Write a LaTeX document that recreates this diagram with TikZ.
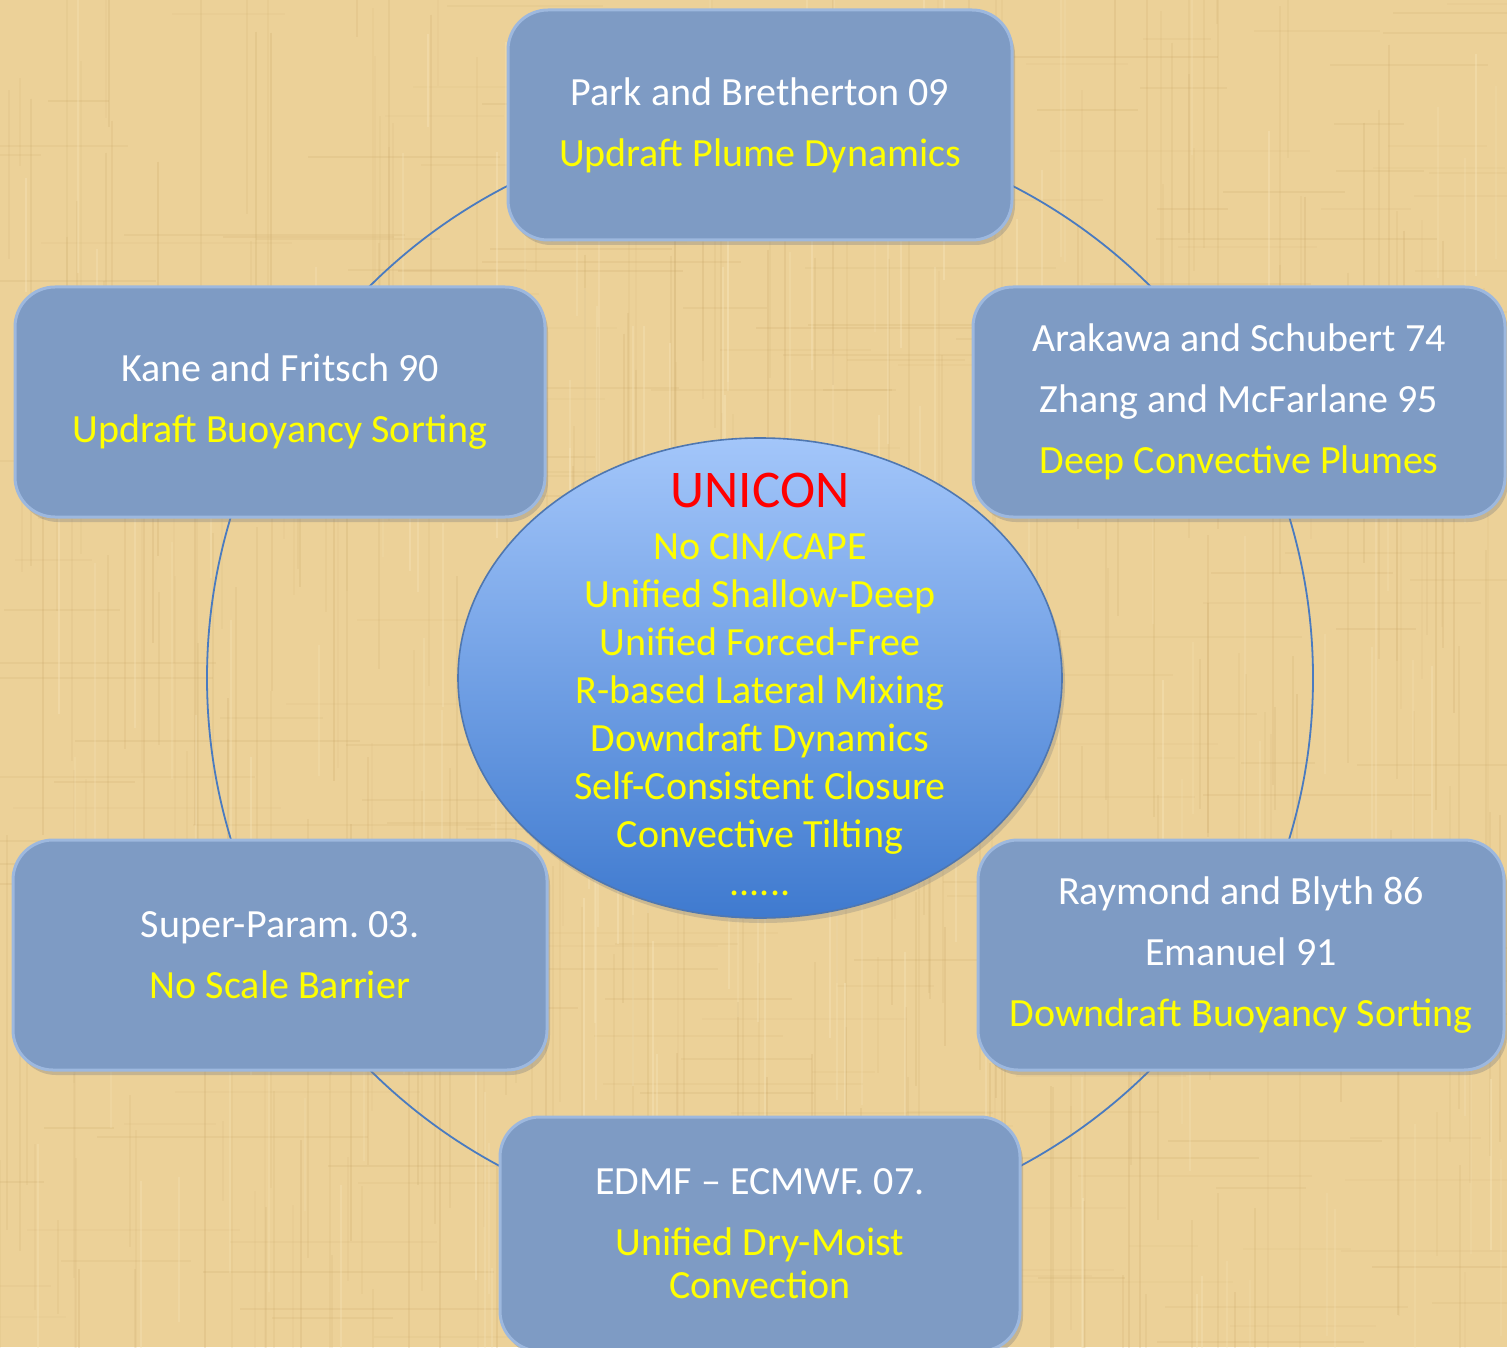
\documentclass[tikz,border=0pt]{standalone}
\usepackage{fontspec}
\setmainfont{Carlito}
\frenchspacing
\usetikzlibrary{shapes.geometric,shadows}
\definecolor{bgtan}{HTML}{ECD198}
\definecolor{bgdark}{HTML}{C4A060}
\definecolor{bglight}{HTML}{F7E6BC}
\definecolor{boxfill}{HTML}{7E9BC4}
\definecolor{boxedge}{HTML}{9DB8DE}
\definecolor{elltop}{HTML}{A3C6FA}
\definecolor{ellbot}{HTML}{3F7ACF}
\definecolor{elledge}{HTML}{4F77B0}
\definecolor{ringcol}{HTML}{4A7BC0}
\definecolor{ylw}{HTML}{FFFF00}
\definecolor{unired}{HTML}{FF0000}
\tikzset{
  card/.style={rectangle, rounded corners=20pt, fill=boxfill, draw=boxedge, line width=1.5pt,
    drop shadow={opacity=0.35, shadow xshift=1.5pt, shadow yshift=-2.5pt},
    inner sep=0pt, text=white, align=center,
    font=\fontsize{20}{24}\selectfont},
}
\begin{document}
\begin{tikzpicture}[x=0.5pt,y=-0.5pt]
\useasboundingbox (0,0) rectangle (1507,1347);
% background
\fill[bgtan] (0,0) rectangle (1507,1347);
\pgfmathsetseed{11}
\foreach \i in {1,...,320}{
  \pgfmathrandominteger{\xx}{0}{1507}
  \pgfmathrandominteger{\yy}{-100}{1300}
  \pgfmathrandominteger{\ll}{80}{500}
  \pgfmathsetmacro{\oo}{0.06+0.14*rnd}
  \draw[bgdark, opacity=\oo, line width=0.8pt] (\xx,\yy) -- (\xx,\yy+\ll);
}
\foreach \i in {1,...,240}{
  \pgfmathrandominteger{\xx}{-100}{1450}
  \pgfmathrandominteger{\yy}{0}{1347}
  \pgfmathrandominteger{\ll}{60}{300}
  \pgfmathsetmacro{\oo}{0.05+0.12*rnd}
  \draw[bgdark, opacity=\oo, line width=0.7pt] (\xx,\yy) -- (\xx+\ll,\yy);
}
\foreach \i in {1,...,140}{
  \pgfmathrandominteger{\xx}{0}{1507}
  \pgfmathrandominteger{\yy}{-100}{1300}
  \pgfmathrandominteger{\ll}{80}{400}
  \pgfmathsetmacro{\oo}{0.15+0.25*rnd}
  \draw[bglight, opacity=\oo, line width=1.2pt] (\xx,\yy) -- (\xx,\yy+\ll);
}
% ring
\coordinate (ctr) at (760,678);
\draw[ringcol, line width=0.9pt] (ctr) circle [radius=276.5pt];
% boxes
\node[card, minimum width=252pt, minimum height=115pt] (pb) at (760,125)
  {\rule{0pt}{3pt}Park and Bretherton 09\\[6.5pt]{\color{ylw}Updraft Plume Dynamics}};
\node[card, minimum width=265pt, minimum height=115pt] (kf) at (280,402)
  {\rule{0pt}{3pt}Kane and Fritsch 90\\[6.5pt]{\color{ylw}Updraft Buoyancy Sorting}};
\node[card, minimum width=266pt, minimum height=115pt] (as) at (1239,402)
  {Arakawa and Schubert 74\\[6.5pt]Zhang and McFarlane 95\\[6.5pt]{\color{ylw}Deep Convective Plumes}};
\node[card, minimum width=267pt, minimum height=115pt] (sp) at (280,955)
  {Super-Param. 03.\\[6.5pt]{\color{ylw}No Scale Barrier}};
\node[card, minimum width=263pt, minimum height=115pt] (rb) at (1241,955)
  {Raymond and Blyth 86\\[6.5pt]Emanuel 91\\[6.5pt]{\color{ylw}Downdraft Buoyancy Sorting}};
\node[card, minimum width=260pt, minimum height=117pt] (ed) at (760,1234)
  {EDMF -- ECMWF. 07.\\[6.5pt]{\color{ylw}Unified Dry-Moist}\\[-2.5pt]{\color{ylw}Convection}};
% central ellipse
\node[ellipse, minimum width=302pt, minimum height=240pt, inner sep=0pt,
  top color=elltop, bottom color=ellbot, draw=elledge, line width=0.8pt,
  drop shadow={opacity=0.3, shadow xshift=1.5pt, shadow yshift=-2.5pt}] (uc) at (ctr) {};
\node[align=center, text=ylw, font=\fontsize{20}{24}\selectfont] (ut) at (760,684)
  {{\color{unired}\fontsize{26.5}{26.5}\selectfont UNICON}\\[2pt]
   No CIN/CAPE\\
   Unified Shallow-Deep\\
   Unified Forced-Free\\
   R-based Lateral Mixing\\
   Downdraft Dynamics\\
   Self-Consistent Closure\\
   Convective Tilting\\[0pt]
   ......};
\end{tikzpicture}
\end{document}
